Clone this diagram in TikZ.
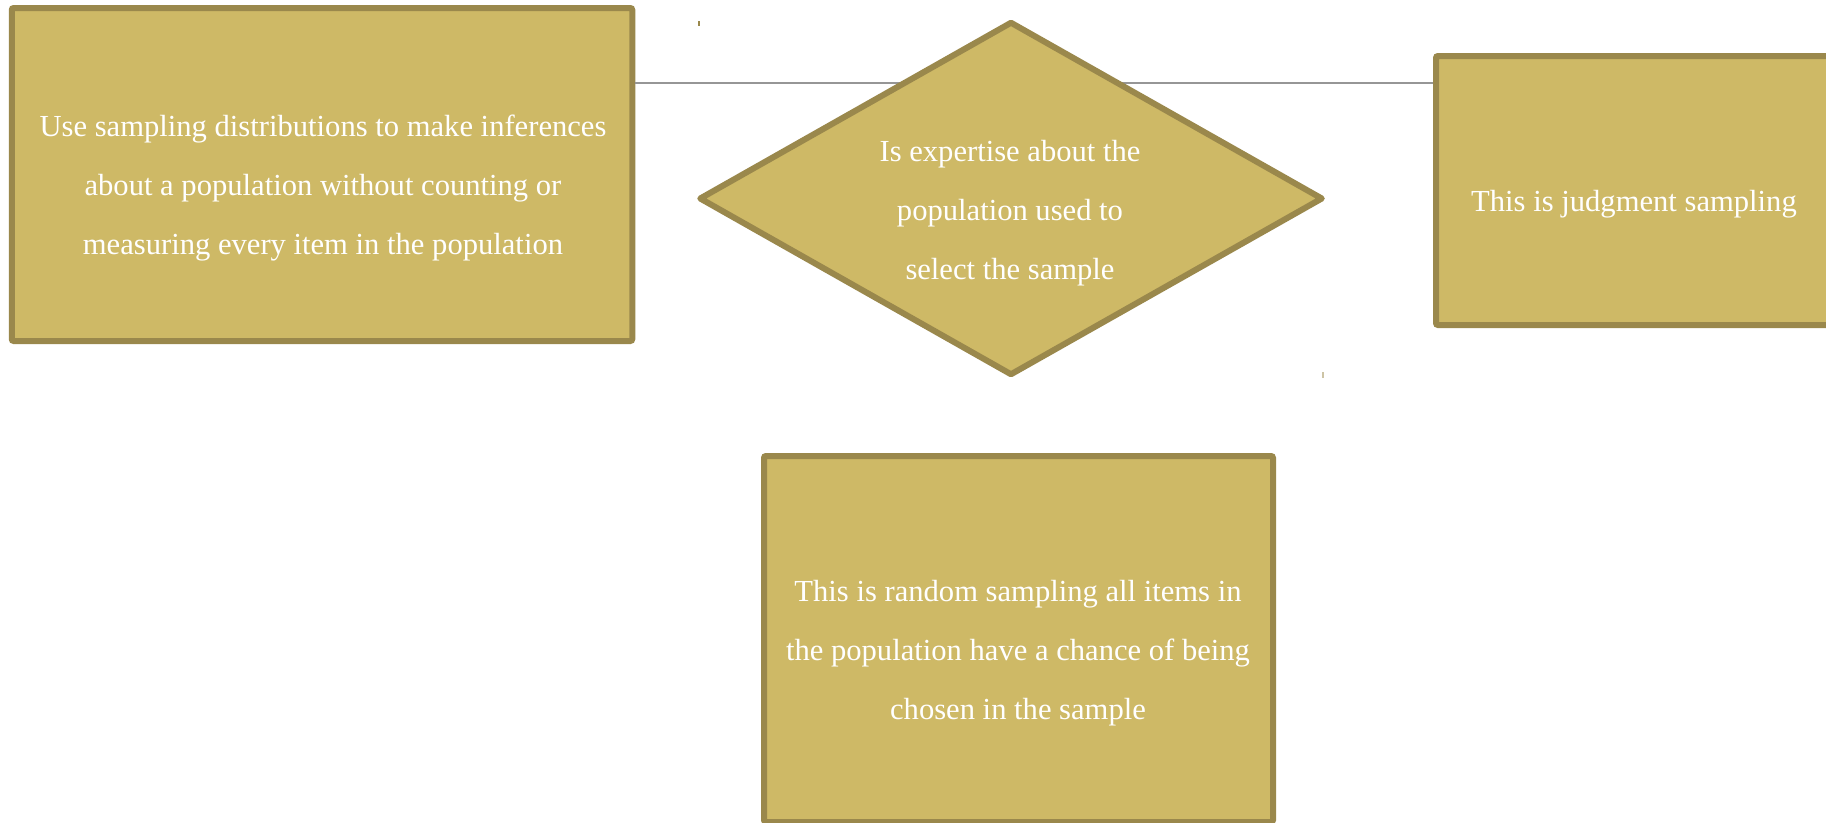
\documentclass[tikz,border=0pt]{standalone}
\usepackage{fontspec}
\setmainfont{Liberation Serif}
\usetikzlibrary{shapes.geometric}
\definecolor{boxfill}{RGB}{206,185,102}
\definecolor{boxedge}{RGB}{154,136,76}
\definecolor{conngray}{RGB}{150,150,150}
\tikzset{
  box/.style={draw=boxedge, fill=boxfill, line width=6pt, rectangle, rounded corners=2pt, inner sep=0pt},
  dia/.style={draw=boxedge, fill=boxfill, line width=6pt, diamond, inner sep=0pt, line join=round},
  txt/.style={text=white, align=center, font=\fontsize{30.6}{59}\selectfont, inner sep=0pt},
  conn/.style={draw=conngray, line width=1.5pt},
  tick/.style={line width=1.2pt},
}
\begin{document}
\begin{tikzpicture}[x=1pt,y=-1pt]
\useasboundingbox (0,0) rectangle (1826,822);
\fill[white] (0,0) rectangle (1826,822);
\clip (0,0) rectangle (1826,822);
\node[box, minimum width=620.5pt, minimum height=333pt] (L) at (322,174.5) {};
\node[box, minimum width=460pt, minimum height=269pt] (R) at (1666,190.5) {};
\coordinate (ly) at (0,83);
\draw[conn] (L.east |- ly) -- (R.west |- ly);
\node[dia, minimum width=624pt, minimum height=354pt] (D) at (1011,198.5) {};
\node[box, minimum width=509pt, minimum height=366pt] (B) at (1018.5,639) {};
\node[txt] (Lt) at (323,188.5) {Use sampling distributions to make inferences\\about a population without counting or\\measuring every item in the population};
\node[txt] (Dt) at (1010,213) {Is expertise about the\\population used to\\select the sample};
\node[txt] (Rt) at (1634,204) {This is judgment sampling};
\node[txt] (Bt) at (1018,653.5) {This is random sampling all items in\\the population have a chance of being\\chosen in the sample};
\coordinate (t1a) at (699,21);
\coordinate (t1b) at (699,26);
\coordinate (t2a) at (1323,372);
\coordinate (t2b) at (1323,378);
\draw[tick, boxedge] (t1a) -- (t1b);
\draw[tick, boxedge!50] (t2a) -- (t2b);
\end{tikzpicture}
\end{document}
